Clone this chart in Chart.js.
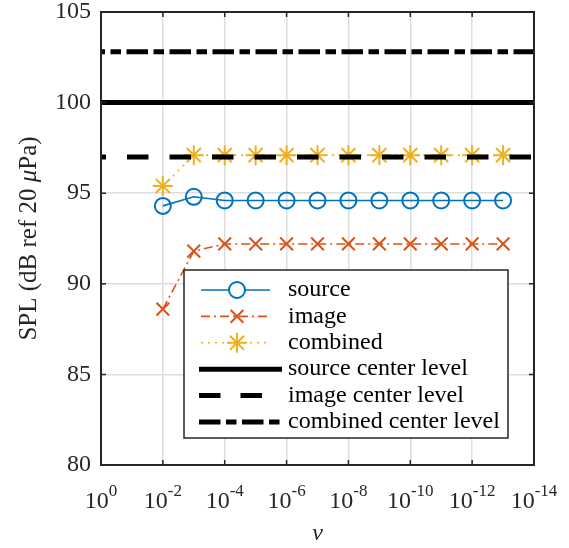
<!DOCTYPE html>
<html>
<head>
<meta charset="utf-8">
<script src="https://cdn.jsdelivr.net/npm/chart.js@4"></script>
<style>
  html, body { margin: 0; padding: 0; background: #fff; }
  #wrap { width: 569px; height: 548px; }
</style>
</head>
<body>
<div id="wrap"><canvas id="splChart" width="569" height="548"></canvas></div>
<script>
// values
const nu = [1e-2, 1e-3, 1e-4, 1e-5, 1e-6, 1e-7, 1e-8, 1e-9, 1e-10, 1e-11, 1e-12, 1e-13];
const sourceSPL = [94.3, 94.8, 94.6, 94.6, 94.6, 94.6, 94.6, 94.6, 94.6, 94.6, 94.6, 94.6];
const imageSPL = [88.6, 91.8, 92.2, 92.2, 92.2, 92.2, 92.2, 92.2, 92.2, 92.2, 92.2, 92.2];
const combinedSPL = [95.4, 97.1, 97.1, 97.1, 97.1, 97.1, 97.1, 97.1, 97.1, 97.1, 97.1, 97.1];
const levelRange = [1, 1e-14];
const sourceCenter = 100;
const imageCenter = 97;
const combinedCenter = 102.8;
const xTickExp = [0, -2, -4, -6, -8, -10, -12, -14];
const yTicks = [80, 85, 90, 95, 100, 105];

const FONT = "'Liberation Serif', 'Times New Roman', serif";
const TXT = '#262626';
const BLUE = '#0072BD', RED = '#D95319', YEL = '#EDB120';

function pts(xs, ys) { return xs.map((x, i) => ({ x: x, y: ys[i] })); }
function flat(v) { return levelRange.map(x => ({ x: x, y: v })); }

const series = [
    { label: 'source', data: pts(nu, sourceSPL), borderColor: BLUE, borderWidth: 1.6, borderDash: [], dashOffset: 0,
      pointStyle: 'circle', pointRadius: 8, pointBorderWidth: 2, order: 3 },
    { label: 'image', data: pts(nu, imageSPL), borderColor: RED, borderWidth: 1.6, borderDash: [9, 4, 2, 4], dashOffset: 0,
      pointStyle: 'crossRot', pointRadius: 9, pointBorderWidth: 2, order: 2 },
    { label: 'combined', data: pts(nu, combinedSPL), borderColor: YEL, borderWidth: 1.6, borderDash: [2, 5], dashOffset: 0,
      pointStyle: 'star', pointRadius: 10, pointBorderWidth: 2, order: 1 },
    { label: 'source center level', data: flat(sourceCenter), borderColor: '#000', borderWidth: 5, borderDash: [], dashOffset: 0,
      pointRadius: 0, order: 0 },
    { label: 'image center level', data: flat(imageCenter), borderColor: '#000', borderWidth: 5, borderDash: [21.5, 21], dashOffset: 16.5,
      pointRadius: 0, order: 0 },
    { label: 'combined center level', data: flat(combinedCenter), borderColor: '#000', borderWidth: 5, borderDash: [21.5, 5.5, 10.5, 5.5], dashOffset: 17.5,
      pointRadius: 0, order: 0 }
];

const datasets = series.map(s => ({
    label: s.label,
    data: s.data,
    showLine: true,
    borderColor: s.borderColor,
    backgroundColor: 'rgba(0,0,0,0)',
    borderWidth: s.borderWidth,
    borderDash: s.borderDash,
    borderDashOffset: s.dashOffset,
    pointStyle: s.pointStyle || 'circle',
    pointRadius: s.pointRadius,
    pointBorderWidth: s.pointBorderWidth || 1,
    pointBorderColor: s.borderColor,
    pointBackgroundColor: 'rgba(0,0,0,0)',
    tension: 0,
    order: s.order
}));

// axis box, inward ticks, superscript tick labels, titles and legend
const decorPlugin = {
    id: 'decor',
    afterDraw(chart) {
        const ctx = chart.ctx;
        const a = chart.chartArea;
        const xs = chart.scales.x, ys = chart.scales.y;
        ctx.save();

        ctx.strokeStyle = TXT;
        ctx.lineWidth = 2;
        ctx.strokeRect(a.left, a.top, a.right - a.left, a.bottom - a.top);

        ctx.lineWidth = 1.5;
        ctx.beginPath();
        xTickExp.forEach(e => {
            const px = xs.getPixelForValue(Math.pow(10, e));
            ctx.moveTo(px, a.bottom); ctx.lineTo(px, a.bottom - 5);
            ctx.moveTo(px, a.top); ctx.lineTo(px, a.top + 5);
        });
        yTicks.forEach(v => {
            const py = ys.getPixelForValue(v);
            ctx.moveTo(a.left, py); ctx.lineTo(a.left + 5, py);
            ctx.moveTo(a.right, py); ctx.lineTo(a.right - 5, py);
        });
        ctx.stroke();

        // x tick labels 10^e
        ctx.fillStyle = TXT;
        ctx.textBaseline = 'alphabetic';
        ctx.textAlign = 'left';
        xTickExp.forEach(e => {
            const px = xs.getPixelForValue(Math.pow(10, e));
            ctx.font = '24px ' + FONT;
            const wb = ctx.measureText('10').width;
            ctx.font = '17px ' + FONT;
            const sup = String(e);
            const we = ctx.measureText(sup).width;
            const x0 = px - (wb + we) / 2;
            ctx.font = '24px ' + FONT;
            ctx.fillText('10', x0, 508);
            ctx.font = '17px ' + FONT;
            ctx.fillText(sup, x0 + wb, 496);
        });

        // x title
        ctx.font = 'italic 24px ' + FONT;
        ctx.textAlign = 'center';
        ctx.fillText('v', (a.left + a.right) / 2, 540);

        // y title with italic mu
        ctx.save();
        ctx.translate(36, (a.top + a.bottom) / 2);
        ctx.rotate(-Math.PI / 2);
        const parts = [['SPL (dB ref 20 ', ''], ['\u03bc', 'italic '], ['Pa)', '']];
        let tw = 0;
        parts.forEach(p => { ctx.font = p[1] + '25px ' + FONT; tw += ctx.measureText(p[0]).width; });
        let cx = -tw / 2;
        ctx.textAlign = 'left';
        parts.forEach(p => {
            ctx.font = p[1] + '25px ' + FONT;
            ctx.fillText(p[0], cx, 0);
            cx += ctx.measureText(p[0]).width;
        });
        ctx.restore();

        // legend
        const lx = 184, ly = 270, lw = 324, lh = 168;
        ctx.fillStyle = '#fff';
        ctx.fillRect(lx, ly, lw, lh);
        ctx.strokeStyle = TXT;
        ctx.lineWidth = 1.5;
        ctx.strokeRect(lx, ly, lw, lh);
        series.forEach((s, i) => {
            const ry = 290 + i * 26.4;
            const thick = s.borderWidth > 3;
            ctx.strokeStyle = s.borderColor;
            ctx.lineWidth = s.borderWidth;
            ctx.setLineDash(thick && s.borderDash.length === 2 ? [21.5, 20] : s.borderDash);
            ctx.beginPath();
            ctx.moveTo(thick ? 199 : 201, ry);
            ctx.lineTo(thick ? 282 : 270, ry);
            ctx.stroke();
            ctx.setLineDash([]);
            if (!thick) {
                ctx.lineWidth = s.pointBorderWidth;
                ctx.fillStyle = '#fff';
                Chart.helpers.drawPoint(ctx, { pointStyle: s.pointStyle, radius: s.pointRadius, borderWidth: s.pointBorderWidth, rotation: 0 }, 237, ry);
            }
            ctx.fillStyle = '#000';
            ctx.font = '24px ' + FONT;
            ctx.textAlign = 'left';
            ctx.textBaseline = 'middle';
            ctx.fillText(s.label, 288, ry);
        });
        ctx.restore();
    }
};

const ctx = document.getElementById('splChart').getContext('2d');
const splChart = new Chart(ctx, {
    type: 'scatter',
    data: { datasets: datasets },
    options: {
        responsive: false,
        animation: false,
        events: [],
        layout: { padding: { top: 12, right: 35, left: 0, bottom: 0 } },
        plugins: {
            legend: { display: false },
            tooltip: { enabled: false },
            title: { display: false }
        },
        scales: {
            x: {
                type: 'logarithmic',
                reverse: true,
                min: 1e-14,
                max: 1,
                afterBuildTicks: function(scale) {
                    scale.ticks = xTickExp.map(e => ({ value: Math.pow(10, e) }));
                },
                afterFit: function(scale) { scale.height = 83; },
                ticks: { display: false },
                grid: { color: '#dedede', lineWidth: 1.5, drawTicks: false },
                border: { display: false }
            },
            y: {
                min: 80,
                max: 105,
                afterBuildTicks: function(scale) {
                    scale.ticks = yTicks.map(v => ({ value: v }));
                },
                afterFit: function(scale) {
                    scale.width = 101;
                    scale.paddingTop = 0;
                    scale.paddingBottom = 0;
                },
                ticks: {
                    color: TXT,
                    padding: 10,
                    font: { family: FONT, size: 24 }
                },
                grid: { color: '#dedede', lineWidth: 1.5, drawTicks: false },
                border: { display: false }
            }
        }
    },
    plugins: [decorPlugin]
});
</script>
</body>
</html>
